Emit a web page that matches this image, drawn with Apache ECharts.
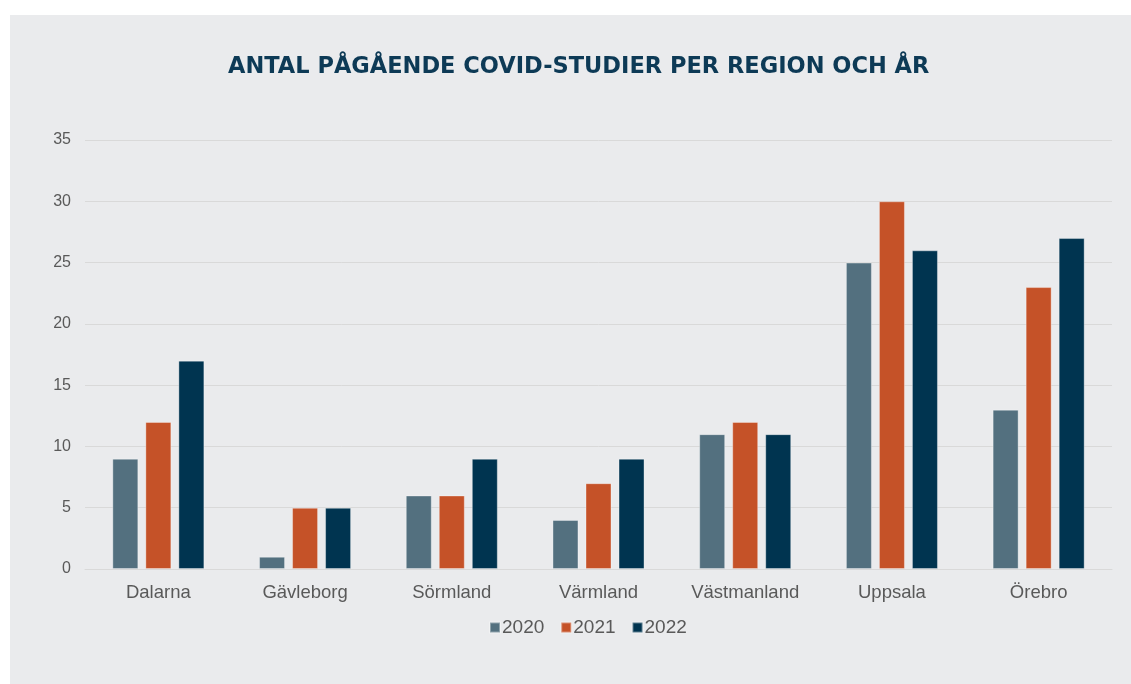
<!DOCTYPE html>
<html>
<head>
<meta charset="utf-8">
<script src="https://cdn.jsdelivr.net/npm/echarts@6/dist/echarts.min.js"></script>
<style>
  html, body { margin: 0; padding: 0; background: #ffffff; }
  #chart { position: absolute; left: 10px; top: 15px; width: 1121px; height: 669px; background: #eaebed; }
</style>
</head>
<body>
<div id="chart"></div>
<script>
// regioner och antal studier per år
var regions = ['Dalarna', 'Gävleborg', 'Sörmland', 'Värmland', 'Västmanland', 'Uppsala', 'Örebro'];
var years = ['2020', '2021', '2022'];
var values2020 = [9, 1, 6, 4, 11, 25, 13];
var values2021 = [12, 5, 6, 7, 12, 30, 23];
var values2022 = [17, 5, 9, 9, 11, 26, 27];
var colors = ['#53707f', '#c55228', '#003450'];

var myChart = echarts.init(document.getElementById('chart'));

function bar(name, data, color) {
    return {
        name: name,
        type: 'bar',
        data: data,
        barWidth: 26,
        barGap: '27%',
        itemStyle: { color: color, borderColor: 'rgba(255,255,255,0.35)', borderWidth: 1 }
    };
}

var option = {
    animation: false,
    backgroundColor: '#eaebed',
    title: {
        text: 'ANTAL PÅGÅENDE COVID-STUDIER PER REGION OCH ÅR',
        left: 213,
        top: 36,
        textStyle: {
            fontFamily: 'DejaVu Sans',
            fontWeight: 'bold',
            fontSize: 22.5,
            color: '#0d3a56'
        }
    },
    legend: {
        data: years,
        bottom: 42,
        left: 474,
        itemWidth: 10,
        itemHeight: 10,
        itemGap: 16,
        icon: 'rect',
        textStyle: { fontFamily: 'Liberation Sans', fontSize: 19, color: '#595959', padding: [0, 0, 0, -3] }
    },
    grid: { left: 75, right: 19, top: 125, bottom: 115 },
    xAxis: {
        type: 'category',
        data: regions,
        axisLine: { lineStyle: { color: '#d9d9d9' } },
        axisTick: { show: false },
        axisLabel: { fontFamily: 'Liberation Sans', fontSize: 18.5, color: '#595959', margin: 14 }
    },
    yAxis: {
        type: 'value',
        min: 0,
        max: 35,
        interval: 5,
        axisLine: { show: false },
        axisTick: { show: false },
        splitLine: { lineStyle: { color: '#d9d9d9' } },
        axisLabel: { fontFamily: 'Liberation Sans', fontSize: 16, color: '#595959', margin: 14 }
    },
    series: [
        bar(years[0], values2020, colors[0]),
        bar(years[1], values2021, colors[1]),
        bar(years[2], values2022, colors[2])
    ]
};

myChart.setOption(option);
</script>
</body>
</html>
